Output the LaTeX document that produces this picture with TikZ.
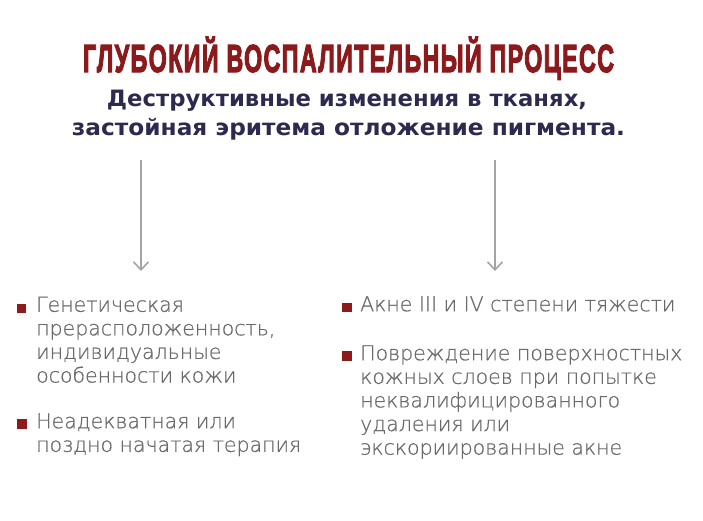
\documentclass[tikz,border=0pt]{standalone}
\usepackage{fontspec}
\usepackage{graphicx}
\usetikzlibrary{arrows.meta}
\newfontfamily\titlefont{Liberation Sans}[FakeBold=3.5,LetterSpace=6]
\newfontfamily\subfont{DejaVu Sans}
\newfontfamily\bodyfont{DejaVu Sans ExtraLight}[FakeBold=0.6]
\definecolor{titlered}{HTML}{8B1A1C}
\definecolor{subnavy}{HTML}{2C2A4E}
\definecolor{textgray}{HTML}{6A6A6A}
\definecolor{bulred}{HTML}{8E1B1B}
\definecolor{arrowgray}{HTML}{A4A4A4}
\tikzset{
  titletext/.style={anchor=base, inner sep=0, text=titlered, font=\titlefont\bfseries\fontsize{39}{39}\selectfont},
  subtext/.style={anchor=base, inner sep=0, text=subnavy, font=\subfont\bfseries\fontsize{22.5}{22.5}\selectfont},
  bodytext/.style={anchor=north west, inner sep=0, align=left, text=textgray, font=\bodyfont\fontsize{20.5}{23.6}\selectfont},
  bul/.style={fill=bulred, minimum width=9.5pt, minimum height=9.5pt, inner sep=0, draw=none},
  downarrow/.style={draw=arrowgray, line width=1.6pt, -{Straight Barb[length=8pt,width=15pt,line width=1.6pt]}}
}
\begin{document}
\begin{tikzpicture}[x=1pt,y=-1pt]
\useasboundingbox[fill=white] (0,0) rectangle (703,520);
\node[titletext] (title) at (348.5,72) {\resizebox{531pt}{\height}{ГЛУБОКИЙ ВОСПАЛИТЕЛЬНЫЙ ПРОЦЕСС}};
\node[subtext] (sub1) at (347,106) {\resizebox{480pt}{\height}{Деструктивные изменения в тканях,}};
\node[subtext] (sub2) at (348.5,135) {\resizebox{553pt}{\height}{застойная эритема отложение пигмента.}};
\coordinate (a1s) at (141,160);
\coordinate (a1e) at (141,271);
\coordinate (a2s) at (495,160);
\coordinate (a2e) at (495,271);
\draw[downarrow] (a1s) -- (a1e);
\draw[downarrow] (a2s) -- (a2e);
\node[bul] (b1) at (21.5,308.5) {};
\node[bodytext] (t1) at (36,295) {\strut Генетическая\\прерасположенность,\\индивидуальные\\особенности кожи};
\node[bul] (b2) at (22,424) {};
\node[bodytext] (t2) at (36,411.5) {\strut Неадекватная или\\поздно начатая терапия};
\node[bul] (b3) at (347,307.5) {};
\node[bodytext] (t3) at (360,294.5) {\strut Акне III и IV степени тяжести};
\node[bul] (b4) at (347,356) {};
\node[bodytext] (t4) at (360,343.5) {\strut Повреждение поверхностных\\кожных слоев при попытке\\неквалифицированного\\удаления или\\экскориированные акне};
\end{tikzpicture}
\end{document}
